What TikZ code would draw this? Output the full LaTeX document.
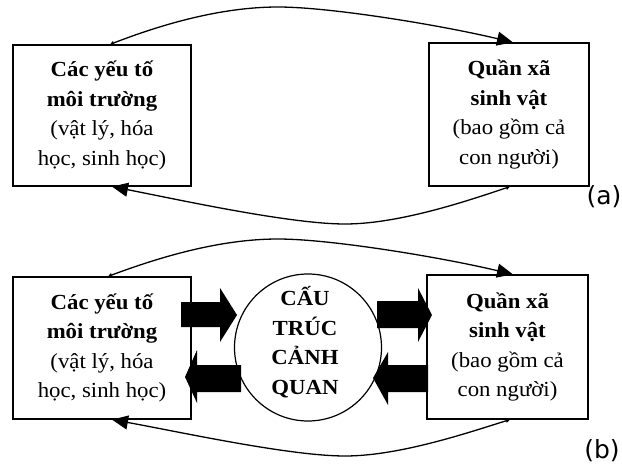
\documentclass[tikz,border=0pt]{standalone}
\usepackage{fontspec}
\setmainfont{Liberation Serif}[FakeStretch=1.06]
\newfontfamily\labfont{DejaVu Sans}
\usetikzlibrary{arrows.meta}
\newcommand\bxfont{\fontsize{21.5}{29.5}\selectfont}
\begin{document}
\begin{tikzpicture}[x=1pt,y=-1pt,
  box/.style={draw,line width=1.2pt,align=center,inner sep=0pt,font=\bxfont},
  arc/.style={line width=1.3pt},
  bigtip/.tip={Triangle[length=16pt,width=14pt]},
  smalltip/.tip={Triangle[length=4pt,width=4pt]},
  lab/.style={font=\labfont\fontsize{25}{30}\selectfont,inner sep=0pt}]
\useasboundingbox (0,0) rectangle (622,468);
% ---------- (a) ----------
\node[box,minimum width=178pt,minimum height=141pt] (A1) at (102,115.5)
  {\textbf{Các yếu tố}\\\textbf{môi trường}\\(vật lý, hóa\\học, sinh học)};
\node[box,minimum width=160pt,minimum height=143pt] (B1) at (509,114.5)
  {\textbf{Quần xã}\\\textbf{sinh vật}\\(bao gồm cả\\con người)};
\draw[arc,smalltip-bigtip] ([xshift=8pt]A1.north) .. controls (160,25) and (220,7) .. (278,7)
  .. controls (330,7) and (440,25) .. ([xshift=4pt]B1.north);
\draw[arc,smalltip-bigtip] ([xshift=1pt]B1.south) .. controls (470,200) and (400,224) .. (345,224)
  .. controls (290,224) and (180,200) .. ([xshift=10pt]A1.south);
\node[lab] (la) at (604,197) {(a)};
% ---------- (b) ----------
\node[box,minimum width=178pt,minimum height=142pt] (A2) at (102,348)
  {\textbf{Các yếu tố}\\\textbf{môi trường}\\(vật lý, hóa\\học, sinh học)};
\node[box,minimum width=161pt,minimum height=144pt] (B2) at (507.5,347)
  {\textbf{Quần xã}\\\textbf{sinh vật}\\(bao gồm cả\\con người)};
\node[draw,circle,line width=1.2pt,minimum size=147pt,inner sep=0pt] (C) at (308,347.5) {};
\node[font=\bxfont\bfseries,align=center,inner sep=0pt] (Ct) at (305,342) {CẤU\\TRÚC\\CẢNH\\QUAN};
\draw[arc,smalltip-bigtip] ([xshift=6pt]A2.north) .. controls (160,257) and (220,239) .. (278,239)
  .. controls (330,239) and (440,257) .. ([xshift=5.5pt]B2.north);
\draw[arc,smalltip-bigtip] ([xshift=2.5pt]B2.south) .. controls (470,432) and (400,456) .. (345,456)
  .. controls (290,456) and (180,432) .. ([xshift=10pt]A2.south);
% block arrows
\fill (181,302) -- (220,302) -- (220,288) -- (237,315) -- (220,342) -- (220,327) -- (181,327) -- cycle;
\fill (241,365) -- (197,365) -- (197,350) -- (185,377) -- (197,403) -- (197,392) -- (241,392) -- cycle;
\fill (377,301) -- (418,301) -- (418,288) -- (432,315) -- (418,342) -- (418,328) -- (377,328) -- cycle;
\fill (428,365) -- (388,365) -- (388,352) -- (373,378) -- (388,405) -- (388,392) -- (428,392) -- cycle;
\node[lab] (lb) at (602,451) {(b)};
\end{tikzpicture}
\end{document}
